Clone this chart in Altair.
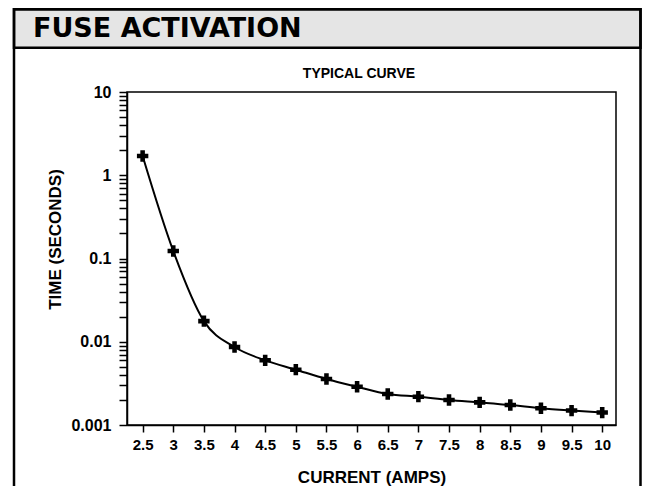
import altair as alt
import pandas as pd

current = [2.5, 3, 3.5, 4, 4.5, 5, 5.5, 6, 6.5, 7, 7.5, 8, 8.5, 9, 9.5, 10]
time_s = [1.70, 0.123, 0.0177, 0.00865, 0.00598, 0.00462, 0.00357, 0.00288,
          0.00236, 0.00219, 0.00200, 0.00187, 0.00174, 0.00159, 0.00149, 0.00141]
x_ticks = [2.5, 3, 3.5, 4, 4.5, 5, 5.5, 6, 6.5, 7, 7.5, 8, 8.5, 9, 9.5, 10]
y_major = [0.001, 0.01, 0.1, 1, 10]
y_ticks = [round(m * d, 6) for d in [0.001, 0.01, 0.1, 1] for m in range(1, 10)] + [10]

header_title = "FUSE ACTIVATION"
chart_title = "TYPICAL CURVE"
x_title = "CURRENT (AMPS)"
y_title = "TIME (SECONDS)"

df = pd.DataFrame({"current": current, "time": time_s})
deco = pd.DataFrame({"k": [0]})

W, H = 489, 333
FONT = "Liberation Sans"

x_scale = alt.Scale(domain=[2.245, 10.225], nice=False, zero=False)
y_scale = alt.Scale(type="log", domain=[0.001, 10], nice=False)

x_axis = alt.Axis(values=x_ticks, format="~g", title=x_title, tickSize=7,
                  labelPadding=5, labelFontSize=15, titleFontSize=17,
                  titleY=57, titleBaseline="alphabetic")
y_axis = alt.Axis(values=y_ticks, format="~g", title=y_title, tickSize=8,
                  labelPadding=8, labelFontSize=16, titleFontSize=17,
                  labelExpr="indexof([0.001,0.01,0.1,1,10], datum.value) >= 0 ? datum.label : ''",
                  titleX=-71.5, titleY=147, titleAlign="center", titleBaseline="middle",
                  titleAngle=270)

enc_x = alt.X("current:Q", scale=x_scale, axis=x_axis)
enc_y = alt.Y("time:Q", scale=y_scale, axis=y_axis)

header = alt.Chart(deco).mark_rect(fill="#e5e5e5", stroke="black", strokeWidth=2.5).encode(
    x=alt.value(-113), x2=alt.value(513.5), y=alt.value(-82.7), y2=alt.value(-44.3))
box = alt.Chart(deco).mark_rect(fillOpacity=0, stroke="black", strokeWidth=2.5).encode(
    x=alt.value(-113), x2=alt.value(513.5), y=alt.value(-82.7), y2=alt.value(430))
head_text = alt.Chart(deco).mark_text(text=header_title, font="DejaVu Sans", fontWeight="bold",
                                      fontSize=27, align="left", baseline="alphabetic",
                                      color="black").encode(x=alt.value(-94), y=alt.value(-55))
sub_text = alt.Chart(deco).mark_text(text=chart_title, font=FONT, fontWeight="bold",
                                     fontSize=14, align="center", baseline="alphabetic",
                                     color="black").encode(x=alt.value(232), y=alt.value(-14))

line = alt.Chart(df).mark_line(color="black", strokeWidth=2, interpolate="monotone").encode(
    x=enc_x, y=enc_y)
pts = alt.Chart(df).mark_point(shape="cross", filled=True, size=130, color="black",
                               opacity=1).encode(x=enc_x, y=enc_y)

chart = alt.layer(header, box, line, pts, head_text, sub_text).properties(
    width=W, height=H,
    autosize=alt.AutoSizeParams(type="none"),
    padding={"left": 119, "top": 84, "right": 26, "bottom": 61},
    background="white",
).configure_view(stroke="black", strokeWidth=1.5).configure_axis(
    grid=False, domainColor="black", domainWidth=1.5, tickColor="black", tickWidth=1.5,
    labelFont=FONT, labelFontWeight="bold", labelColor="black",
    titleFont=FONT, titleFontWeight="bold", titleColor="black",
)

chart.save("out.html", embed_options={"renderer": "svg", "actions": False})
